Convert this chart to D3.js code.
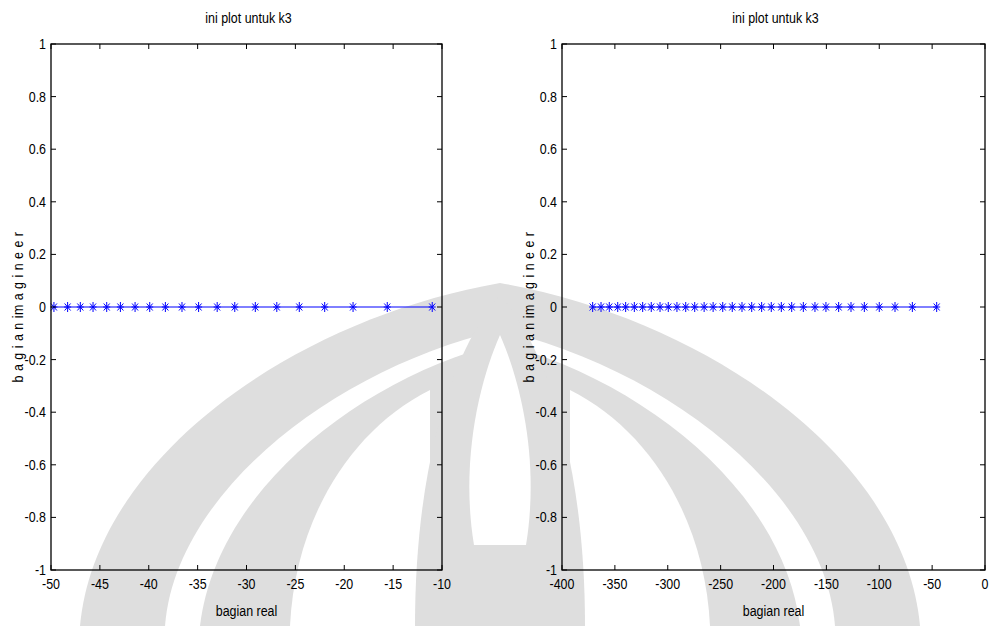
<!DOCTYPE html>
<html>
<head>
<meta charset="utf-8">
<script src="https://cdn.jsdelivr.net/npm/d3@7"></script>
<style>
  html, body { margin: 0; padding: 0; background: #fff; }
  svg text { font-family: "Liberation Sans", Arial, sans-serif; fill: #000; font-size: 15px; }
</style>
</head>
<body>
<svg id="chart" width="993" height="626"></svg>
<script>
// real parts of the roots (imaginary part is zero for all of them)
const leftReal = [-49.7, -48.3, -47.0, -45.7, -44.3, -42.9, -41.4, -39.9, -38.3, -36.6,
  -34.9, -33.0, -31.2, -29.1, -26.9, -24.6, -22.0, -19.1, -15.6, -11.0];
const rightReal = [-371.0, -363.1, -355.3, -347.3, -339.8, -331.6, -323.7, -315.6, -307.3, -299.5,
  -291.3, -283.0, -274.5, -265.6, -257.1, -248.0, -239.0, -229.8, -220.6, -211.2,
  -202.1, -192.6, -182.8, -171.8, -160.8, -150.4, -138.4, -126.7, -114.1, -100.0,
  -85.1, -68.7, -45.7];
const leftImag = leftReal.map(() => 0);
const rightImag = rightReal.map(() => 0);

const yTicks = [-1, -0.8, -0.6, -0.4, -0.2, 0, 0.2, 0.4, 0.6, 0.8, 1];
const leftXTicks = [-50, -45, -40, -35, -30, -25, -20, -15, -10];
const rightXTicks = [-400, -350, -300, -250, -200, -150, -100, -50, 0];

const titleText = "ini plot untuk k3";
const xLabelText = "bagian real";
const yLabelText = "b a g i a n  im a g i n e e r";

const svg = d3.select("#chart");
const NARROW = 0.83;

// narrow text, like the condensed font of the original figure
function label(parent, x, y, str, anchor, rotate) {
  return parent.append("text")
    .attr("transform", `translate(${x},${y})${rotate ? " rotate(-90)" : ""} scale(${NARROW},1)`)
    .attr("text-anchor", anchor)
    .text(str);
}

// faint logo watermark behind the plots
function drawWatermark() {
  const g = svg.append("g").attr("class", "watermark");
  const gray = "#dedede";
  g.append("path").attr("fill", gray)
    .attr("d", "M80,626 C95,460 290,320 500,283 C710,320 905,460 920,626 Z");
  g.append("path").attr("fill", "#fff")
    .attr("d", "M165,626 C175,495 330,370 500,330 C670,370 825,495 835,626 Z");
  g.append("path").attr("fill", gray)
    .attr("d", "M200,626 C215,500 340,395 470,352 L530,352 C660,395 785,500 800,626 Z");
  g.append("path").attr("fill", "#fff")
    .attr("d", "M290,626 C295,520 350,430 430,390 L430,626 Z");
  g.append("path").attr("fill", "#fff")
    .attr("d", "M710,626 C705,520 650,430 570,390 L570,626 Z");
  g.append("path").attr("fill", gray)
    .attr("d", "M415,626 C415,460 455,345 500,295 C545,345 585,460 585,626 Z");
  g.append("path").attr("fill", "#fff")
    .attr("d", "M474,545 C460,460 480,380 500,335 C520,380 540,460 526,545 Z");
}

function asterisk(sel) {
  sel.append("line").attr("x1", 0).attr("x2", 0).attr("y1", -5).attr("y2", 5);
  sel.append("line").attr("x1", -3.5).attr("x2", 3.5).attr("y1", 0).attr("y2", 0);
  sel.append("line").attr("x1", -3).attr("x2", 3).attr("y1", -3.5).attr("y2", 3.5);
  sel.append("line").attr("x1", -3).attr("x2", 3).attr("y1", 3.5).attr("y2", -3.5);
}

function drawPanel({ left, right, top, bottom, xDomain, xTicks, xs, ys }) {
  const x = d3.scaleLinear().domain(xDomain).range([left, right]);
  const y = d3.scaleLinear().domain([-1, 1]).range([bottom, top]);
  const g = svg.append("g");
  const tickLen = 5;
  const fmt = (v) => String(v);

  // data line + markers
  const pts = xs.map((v, i) => [v, ys[i]]);
  g.append("path")
    .attr("d", d3.line().x((d) => x(d[0])).y((d) => y(d[1]))(pts))
    .attr("fill", "none").attr("stroke", "#0000ff").attr("stroke-width", 1);
  g.selectAll("g.mark").data(pts).join("g")
    .attr("class", "mark")
    .attr("transform", (d) => `translate(${x(d[0])},${y(d[1])})`)
    .attr("stroke", "#0000ff").attr("stroke-width", 1)
    .each(function () { asterisk(d3.select(this)); });

  // box
  g.append("rect")
    .attr("x", left).attr("y", top)
    .attr("width", right - left).attr("height", bottom - top)
    .attr("fill", "none").attr("stroke", "#000").attr("stroke-width", 1.3);

  // x ticks (inside, top and bottom)
  xTicks.forEach((t) => {
    const px = x(t);
    g.append("line").attr("x1", px).attr("x2", px).attr("y1", bottom).attr("y2", bottom - tickLen).attr("stroke", "#000");
    g.append("line").attr("x1", px).attr("x2", px).attr("y1", top).attr("y2", top + tickLen).attr("stroke", "#000");
    label(g, px, bottom + 19, fmt(t), "middle");
  });

  // y ticks (inside, left and right)
  yTicks.forEach((t) => {
    const py = y(t);
    g.append("line").attr("x1", left).attr("x2", left + tickLen).attr("y1", py).attr("y2", py).attr("stroke", "#000");
    g.append("line").attr("x1", right).attr("x2", right - tickLen).attr("y1", py).attr("y2", py).attr("stroke", "#000");
    label(g, left - 5, py + 5, fmt(t), "end");
  });

  const cx = (left + right) / 2;
  label(g, cx + 2, 23, titleText, "middle");
  label(g, cx, 616, xLabelText, "middle");
  label(g, left - 28, (top + bottom) / 2, yLabelText, "middle", true)
    .attr("letter-spacing", 0.6);
}

drawWatermark();
drawPanel({ left: 51, right: 442, top: 44, bottom: 570,
  xDomain: [-50, -10], xTicks: leftXTicks, xs: leftReal, ys: leftImag });
drawPanel({ left: 562, right: 985, top: 44, bottom: 570,
  xDomain: [-400, 0], xTicks: rightXTicks, xs: rightReal, ys: rightImag });
</script>
</body>
</html>
